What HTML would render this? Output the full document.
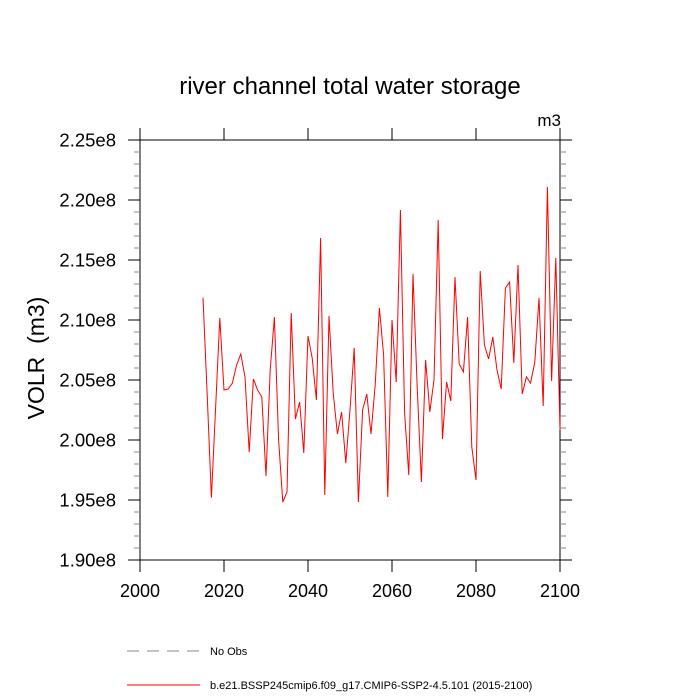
<!DOCTYPE html>
<html><head><meta charset="utf-8"><style>
html,body{margin:0;padding:0;background:#fff;}
svg{display:block;font-family:"Liberation Sans",sans-serif;}
</style></head><body>
<svg id="chart" width="700" height="700">
<text x="350" y="94" text-anchor="middle" font-size="24">river channel total water storage</text>
<text x="561" y="126" text-anchor="end" font-size="17">m3</text>
<text transform="translate(44,358) rotate(-90)" text-anchor="middle" font-size="23">VOLR&#160;&#160;(m3)</text>
<g id="axes"></g>
<g id="series"></g>
<line x1="127" y1="651" x2="200" y2="651" stroke="#888" stroke-width="1" stroke-dasharray="12,8"/>
<text x="210" y="655" font-size="11">No Obs</text>
<line x1="127" y1="685" x2="200" y2="685" stroke="#f00" stroke-width="1"/>
<text x="210" y="689" font-size="11">b.e21.BSSP245cmip6.f09_g17.CMIP6-SSP2-4.5.101 (2015-2100)</text>
</svg>
<script>
const startYear = 2015;
const values = [2.1186,2.0375,1.9519,2.0267,2.1017,2.0417,2.0425,2.0475,2.0625,2.0717,2.0525,1.99,2.0508,2.0417,2.0358,1.97,2.0583,2.1025,2.0,1.9483,1.9567,2.1058,2.0175,2.0317,1.9892,2.0867,2.0683,2.0333,2.1683,1.9542,2.1033,2.0392,2.005,2.0233,1.9808,2.025,2.0767,1.9483,2.025,2.0383,2.005,2.0458,2.11,2.0708,1.9525,2.10,2.0483,2.1917,2.0225,1.9708,2.1383,2.0442,1.965,2.0667,2.0233,2.05,2.1833,2.0008,2.0483,2.0325,2.1358,2.0633,2.0567,2.1025,1.9942,1.9667,2.1408,2.0792,2.0675,2.0858,2.0583,2.0425,2.1267,2.1317,2.0642,2.1458,2.0383,2.0525,2.0475,2.065,2.1183,2.0283,2.2108,2.0492,2.1517,2.0083];
const xTicks = [2000,2020,2040,2060,2080,2100];
const yTicks = [1.90,1.95,2.00,2.05,2.10,2.15,2.20,2.25];
const yTickLabels = ["1.90e8","1.95e8","2.00e8","2.05e8","2.10e8","2.15e8","2.20e8","2.25e8"];
const X0=140,X1=560,Y0=140,Y1=560;
function xs(v){return X0+(v-2000)/100*(X1-X0);}
function ys(v){return Y1-(v-1.90)/0.35*(Y1-Y0);}
const NS="http://www.w3.org/2000/svg";
const axes=document.getElementById('axes');
function mk(tag,attrs,parent){const e=document.createElementNS(NS,tag);for(const k in attrs)e.setAttribute(k,attrs[k]);parent.appendChild(e);return e;}
const frame=mk('rect',{x:X0,y:Y0,width:X1-X0,height:Y1-Y0,fill:'none',stroke:'#000','stroke-width':1},axes);


xTicks.forEach(t=>{
  const x=xs(t);
  mk('line',{x1:x,y1:Y1,x2:x,y2:Y1+12,stroke:'#000'},axes);
  mk('line',{x1:x,y1:Y0,x2:x,y2:Y0-12,stroke:'#000'},axes);
  const tx=mk('text',{x:x,y:Y1+37,'text-anchor':'middle','font-size':18},axes);
  tx.textContent=t;
  
  
});
for(let i=0;i<=35;i++){
  const v=1.90+i*0.01;const y=ys(v);const major=i%5===0;
  const len=major?12:6;const col=major?'#000':'#888';
  mk('line',{x1:X0,y1:y,x2:X0-len,y2:y,stroke:col},axes);
  mk('line',{x1:X1,y1:y,x2:X1+len,y2:y,stroke:col},axes);
}
yTicks.forEach((t,i)=>{
  const tx=mk('text',{x:X0-24,y:ys(t)+6.5,'text-anchor':'end','font-size':18.5},axes);
  tx.textContent=yTickLabels[i];
  
  
});
const pts=values.map((v,i)=>xs(startYear+i).toFixed(2)+','+ys(v).toFixed(2)).join(' ');
const line=mk('polyline',{points:pts,fill:'none',stroke:'#f00','stroke-width':1},document.getElementById('series'));


</script>
</body></html>
